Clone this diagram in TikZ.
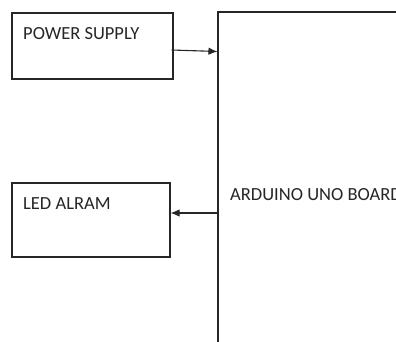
\documentclass[tikz,border=0pt]{standalone}
\usepackage{fontspec}
\setmainfont{Carlito}
\usetikzlibrary{arrows.meta}
\begin{document}
\begin{tikzpicture}[x=1pt,y=1pt,
  blockbox/.style={draw=black!85, line width=1.1pt, fill=none, inner sep=0pt},
  lbl/.style={anchor=north west, inner sep=0pt, font=\fontsize{18.5}{21}\selectfont, text=black!85},
  conn/.style={draw=black!85, line width=1.1pt, -{Latex[length=9pt,width=7.5pt]}}]
\clip (0,0) rectangle (396,341);
\fill[white] (0,0) rectangle (396,341);
\node[blockbox, minimum width=161pt, minimum height=66pt] (ps) at (92.5,295) {};
\node[blockbox, minimum width=158pt, minimum height=74pt] (led) at (91,121) {};
\node[blockbox, minimum width=212pt, minimum height=349pt] (board) at (324,154.5) {};
\node[lbl] (pst) at (23,314) {POWER SUPPLY};
\node[lbl] (ledt) at (23,144) {LED ALRAM};
\node[lbl] (bt) at (230,153) {ARDUINO UNO BOARD};
\coordinate (a1s) at ([xshift=-2pt,yshift=-4pt]ps.east);
\coordinate (a1e) at (board.west |- 0,289.5);
\coordinate (a2s) at (board.west |- 0,128);
\draw[conn] (a1s) -- (a1e);
\draw[conn] (a2s) -- (led.east |- a2s);
\end{tikzpicture}
\end{document}
